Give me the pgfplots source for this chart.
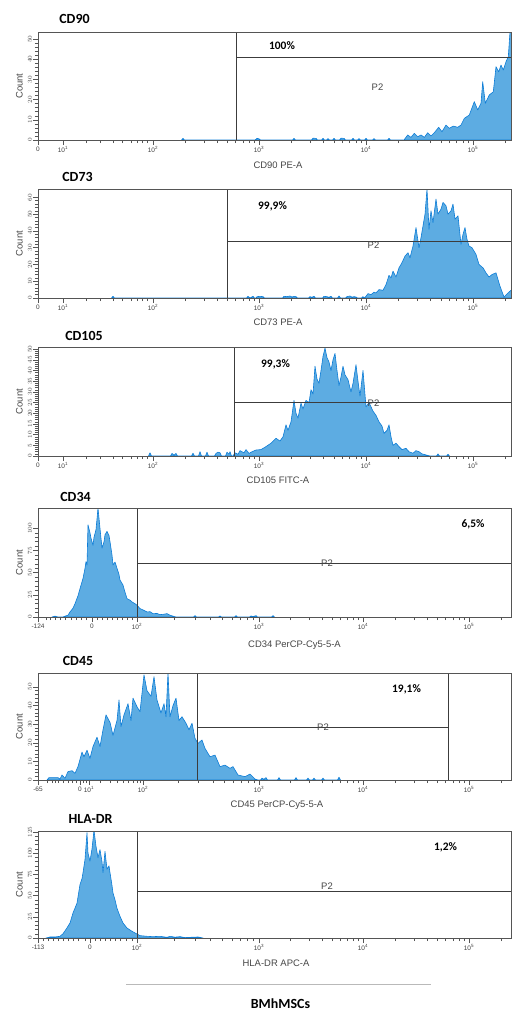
\documentclass[border=0pt]{standalone}
\usepackage{fontspec}
\setmainfont{Liberation Sans}
\newfontfamily\calib{Carlito}
\usepackage{pgfplots}
\pgfplotsset{compat=1.18}
\definecolor{fillblue}{RGB}{93,172,226}
\definecolor{lineblue}{RGB}{12,124,214}
\definecolor{axgray}{RGB}{85,85,85}
\definecolor{gategray}{RGB}{60,60,60}
\definecolor{txtgray}{RGB}{70,70,70}
\newcommand{\dec}[1]{10\textsuperscript{#1}}
\tikzset{gate/.style={draw=gategray, line width=0.8bp}}
\pgfplotsset{
  facs/.style={scale only axis, width=473bp, xmin=38, xmax=511, ymin=0,
    axis on top, axis line style={draw=axgray, line width=0.8bp},
    tick style={draw=axgray, line width=0.5bp},
    tick align=outside, tick pos=left,
    major tick length=5bp, minor tick length=3bp,
    ticklabel style={font=\fontsize{6.5}{7}\selectfont, text=black!75},
    yticklabel style={rotate=90, anchor=south, inner sep=1bp},
    xticklabel style={inner sep=1.5bp},
    ylabel={Count},
    ylabel style={at={(axis description cs:-0.032,0.5)}, anchor=south, inner sep=0pt,
      font=\fontsize{9.5}{11}\selectfont, text=txtgray},
    xlabel style={anchor=center, inner sep=0pt, font=\fontsize{9.5}{11}\selectfont, text=txtgray},
    minor y tick num=4},
  % log display, 0 at left edge
  logx/.style={xtick={38,63,153,259,366,473},
    xticklabels={\raisebox{-4bp}{0},\dec{1},\dec{2},\dec{3},\dec{4},\dec{5}},
    minor xtick={86,100,113,122,131,137,142,147,185,204,217,227,235,243,249,254,
      291,310,323,334,342,349,356,361,398,417,430,441,449,456,463,468,505}},
  hist/.style={draw=lineblue, fill=fillblue, line width=0.6bp, line join=round},
}
\begin{document}
\begin{tikzpicture}
\useasboundingbox (0,0) rectangle (512bp,-1015bp);

% ---------- CD90 ----------
\begin{axis}[facs, logx, height=108bp, ymax=53.5, ytick={0,10,...,50},
  at={(38bp,-140bp)}, anchor=south west,
  xlabel={CD90 PE-A}, xlabel style={at={([xshift=3.5bp,yshift=-25bp]axis description cs:0.5,0)}}]
\addplot[hist] coordinates {
(181.5,0)(183,0.8)(184.5,0) (255,0)(257,0.8)(259,0.6)(260.5,0) (292.5,0)(294,0.8)(295.5,0)
(311.5,0)(313,0.9)(316,0.8)(317.5,0) (321.5,0)(323,0.8)(324.5,0) (326.5,0)(328,0.7)(329.5,0)
(332.5,0)(334,0.8)(335.5,0) (339.5,0)(341,0.9)(344,0.8)(345.5,0) (351.5,0)(353,0.8)(354.5,0)
(357.5,0)(359,0.7)(360.5,0) (364.5,0)(366,0.8)(367.5,0) (372.5,0)(374,0.7)(375.5,0)
(387.5,0)(389,0.8)(390.5,0)
(404,0)(407.7,2.5)(411,1.3)(414.3,3.3)(417.7,1.6)(421,2.5)(424.3,1.3)(427.7,3.6)(431,2)
(434.3,3.6)(438.7,6.3)(442,4.1)(446,7.4)(449.3,5.8)(453.3,6.9)(457.7,6.3)(461,7.4)
(464.3,10.7)(469.3,12.4)(474.3,19)(477.7,14.9)(481,18.2)(482.7,28.9)(485.3,18.2)
(489.3,22.3)(493.3,23.9)(496,36.3)(498.7,33.8)(501,37.1)(503.3,34.7)(506,38.8)
(508.3,41.3)(510,53.6)(511.7,54.5)} \closedcycle;
\draw[gate] (axis cs:236,0) -- (axis cs:236,53.5);
\draw[gate] (axis cs:236,41.1) -- (axis cs:511,41.1);
\end{axis}

% ---------- CD73 ----------
\begin{axis}[facs, logx, height=109bp, ymax=65, ytick={0,10,...,60},
  at={(38bp,-298bp)}, anchor=south west,
  xlabel={CD73 PE-A}, xlabel style={at={([xshift=3.5bp,yshift=-24bp]axis description cs:0.5,0)}}]
\addplot[hist] coordinates {
(111.5,0)(113,1)(114.5,0) (246.5,0)(248,1)(250,0)(253,1)(254.5,0)
(256,0)(257,0.8)(260,1)(263,0.8)(264.5,0)
(282.5,0)(284,1)(287,0.8)(290,1.2)(292,0.6)(294,1)(296,0.8)(297.5,0)
(308.5,0)(310,0.8)(312,0.4)(314,1)(315.5,0)
(322.5,0)(324,1)(327,0.8)(329,0.4)(331,1)(332.5,0) (337.5,0)(339,1.2)(340.5,0)
(345.5,0)(347,0.8)(350,1.2)(352,0.5)(354,0.8)(356,0.6)(357.5,0) (361.5,0)(363,0.8)
(364,0)(366,1)(368,2.6)(371,2)(374,3.5)(376,3)(379,5)(383,4.6)(386,8)(389,13.5)(391,12)
(393,16)(396,12.5)(399,18)(401,20)(403,22.4)(405,25)(408,27)(410,24)(413,31)(416,42)
(419,30)(421,36)(423,43)(425,50)(427,65)(429,41)(431,52)(433,45)(436,59)(438,50)(441,53)
(443,57)(446,55)(448,50)(451,52)(453,56)(455,47)(458,49)(461,32)(463,38)(465,42)(467,35)
(469,31)(472,30)(476,26)(479,20)(483,18)(486,15)(489,12.5)(492,14)(496,15)(500,7)
(504,0.6)(508,3)(511,4.6)(512,4)} \closedcycle;
\draw[gate] (axis cs:227,0) -- (axis cs:227,65);
\draw[gate] (axis cs:227,34) -- (axis cs:511,34);
\end{axis}

% ---------- CD105 ----------
\begin{axis}[facs, logx, height=109bp, ymax=51, ytick={0,5,...,50},
  at={(38bp,-456bp)}, anchor=south west,
  xlabel={CD105 FITC-A}, xlabel style={at={([xshift=3.5bp,yshift=-24bp]axis description cs:0.5,0)}}]
\addplot[hist] coordinates {
(148.5,0)(150,1.5)(151.5,0) (170.5,0)(172,1.2)(174,0.4)(176,1.2)(177.5,0)
(191.5,0)(193,1.3)(194.5,0) (198.5,0)(200,2)(201.5,0) (205.5,0)(207,1.8)(208.5,0)
(214.5,0)(216,1.2)(218,1.8)(220,1.5)(221.5,0) (225.5,0)(227,1.8)(229,0.8)(230,2)(231.5,0)
(233,0)(235,1.5)(238,0.8)(240,2.5)(244,1.5)(246,3)(249,1.2)(252,2)(256,2.8)(261,3)
(266,4.4)(271,6)(276,8.3)(280,7)(283,9)(286,14.6)(288,12)(291,16)(294,26)(296,20)
(298,17.7)(301,24.7)(303,22)(306,26)(309,25)(311,31)(313,29)(315,42)(317,36)(319,34)
(321,40)(323,46.6)(325,50.5)(327,46)(329,44)(331,40)(333,45)(335,48)(337,40)(339,33)
(341,37)(343,42)(345,38)(348,35.7)(351,30)(353,34)(356,42.7)(358,35)(360,28)(363,40)
(366,23)(369,25)(373,21)(376,19)(379,16)(382,14)(384,10.6)(387,12)(389,14.6)(391,9)
(393,5)(396,6)(399,4.4)(402,3)(406,3.6)(409,2)(413,1.3)(416,2.5)(419,2)(422,1)
(426,0.5)(430,0) (436.5,0)(438,1)(439.5,0) (446.5,0)(448,0.8)(449.5,0)} \closedcycle;
\draw[gate] (axis cs:234,0) -- (axis cs:234,51);
\draw[gate] (axis cs:234,25.3) -- (axis cs:511,25.3);
\end{axis}

% ---------- CD34 ----------
\begin{axis}[facs, height=109bp, ymax=123, ytick={0,25,...,100},
  at={(38bp,-617bp)}, anchor=south west,
  xtick={38,92,137,259,363,469},
  xticklabels={\raisebox{-3bp}{-124},0,\dec{2},\dec{3},\dec{4},\dec{5}},
  minor xtick={46,50,55,60,65,71,76,81,86,97,102,107,112,117,122,127,132,
    174,195,210,222,232,240,247,253,290,309,322,332,340,347,353,358,
    395,414,427,437,445,453,459,464,501},
  xlabel={CD34 PerCP-Cy5-5-A}, xlabel style={at={([xshift=20bp,yshift=-28bp]axis description cs:0.5,0)}}]
\addplot[hist] coordinates {
(52,0)(55,1)(58,0)(63,0)(65,1)(68,2)(70,5.7)(73,10)(75,15)(78,24)(80,32)(83,43.6)(85,55)
(86,62.5)(87,58.7)(88,104)(90,95)(91,89)(93,81)(94,90)(96,98.5)(98,123)(100,100)
(102,77.7)(104,85)(105,92.8)(107,96.6)(109,92)(110,85)(112,70)(113,58.7)(115,62)(117,55)
(119,48)(120,41.7)(122,38)(123,36)(125,28)(127,20.8)(130,19)(132,17)(135,15)(137,13.3)
(140,9.5)(143,8)(147,5.7)(150,6)(153,3.8)(157,4)(160,2.7)(163,3)(167,3.8)(170,2)(173,1)
(176,0) (193.5,0)(195,1.5)(196.5,0) (218.5,0)(220,1.2)(221.5,0) (234.5,0)(236,1.5)(237.5,0)
(249.5,0)(251,1.2)(253,0.5)(256,1.5)(257.5,0) (271.5,0)(273,1.5)(274.5,0)} \closedcycle;
\draw[gate] (axis cs:137,0) -- (axis cs:137,123);
\draw[gate] (axis cs:137,60.9) -- (axis cs:511,60.9);
\end{axis}

% ---------- CD45 ----------
\begin{axis}[facs, height=107bp, ymax=57.5, ytick={0,10,...,50},
  at={(38bp,-780bp)}, anchor=south west,
  xtick={38,80,89,143,259,363,469},
  xticklabels={\raisebox{-3bp}{-65},0,\dec{1},\dec{2},\dec{3},\dec{4},\dec{5}},
  minor xtick={47,52,55,58,63,68,72,76,83,86,100,110,117,123,128,133,137,140,
    178,198,213,224,233,241,248,254,290,309,322,332,340,347,353,358,
    395,414,427,437,445,453,459,464,501},
  xlabel={CD45 PerCP-Cy5-5-A}, xlabel style={at={([xshift=2.5bp,yshift=-25bp]axis description cs:0.5,0)}}]
\addplot[hist] coordinates {
(47,0)(49,1.3)(58,1.3)(60,0.5)(62,2.7)(65,0.9)(68,4.5)(72,5)(75,3.6)(78,7.2)(82,15)
(84,12.5)(87,16)(90,11.6)(93,18)(97,23)(100,18)(103,27)(106,35)(110,31)(113,24)(117,32)
(119,43)(121,28.7)(124,35)(128,41)(131,32)(133,44)(137,39.4)(140,36.7)(144,56.5)(147,48)
(151,45)(154,55.5)(157,43)(161,36)(164,41)(166,34)(168,57.7)(170,34)(173,40)(176,44)
(179,32)(182,34)(186,30.5)(189,27)(192,30.5)(195,22.4)(198,19.7)(202,21.5)(205,17)
(210,12.5)(215,13.4)(220,7.2)(225,8)(230,6.3)(233,7.2)(238,2.7)(245,1.8)(250,3.2)
(255,0.5)(258,0) (260.5,0)(262,1)(264,0.4)(266,1.3)(267.5,0) (277.5,0)(279,1.3)(280.5,0)
(294.5,0)(296,1.3)(297.5,0) (306.5,0)(308,1)(309.5,0) (312.5,0)(314,1)(315.5,0)
(321.5,0)(323,1)(324.5,0) (337.5,0)(339,1.5)(340.5,0)} \closedcycle;
\draw[gate] (axis cs:197,0) -- (axis cs:197,57.5);
\draw[gate] (axis cs:448,0) -- (axis cs:448,57.5);
\draw[gate] (axis cs:197,28.5) -- (axis cs:448,28.5);
\end{axis}

% ---------- HLA-DR ----------
\begin{axis}[facs, height=107bp, ymax=126, ytick={0,25,...,125},
  at={(38bp,-938bp)}, anchor=south west,
  xtick={38,90,137,259,363,469},
  xticklabels={\raisebox{-3bp}{-113},0,\dec{2},\dec{3},\dec{4},\dec{5}},
  minor xtick={43,48,53,58,63,68,73,78,85,95,100,105,110,115,120,126,132,
    174,195,210,222,232,240,247,253,290,309,322,332,340,347,353,358,
    395,414,427,437,445,453,459,464,501},
  xlabel={HLA-DR APC-A}, xlabel style={at={([xshift=1.5bp,yshift=-25bp]axis description cs:0.5,0)}}]
\addplot[hist] coordinates {
(46,0)(50,1.2)(55,1.2)(60,2)(63,5)(67,12)(70,17.7)(73,29.5)(77,41)(80,63)(82,70)(83,77)
(85,92.5)(87,124)(88,100)(90,90.5)(92,105)(93,116)(94,127)(96,108)(98,94.5)(100,104)
(102,90)(103,77)(105,102)(107,81)(109,85)(110,77)(112,62)(113,53)(115,45)(117,35)
(120,25.6)(123,17.7)(127,11.8)(132,7.9)(137,4.7)(140,2.8)(147,2)(153,1.6)(160,2)
(167,0.8)(170,2)(175,1)(180,1.6)(185,0.5)(190,0.8)(198,1.2)(203,0)} \closedcycle;
\draw[gate] (axis cs:137,0) -- (axis cs:137,126);
\draw[gate] (axis cs:137,55.4) -- (axis cs:511,55.4);
\end{axis}

% ---------- titles and gate labels ----------
\begin{scope}[every node/.style={font=\calib\bfseries\fontsize{14}{16}\selectfont, inner sep=0pt}]
\node at (74.5bp,-18.5bp) {CD90};
\node at (77.5bp,-177bp) {CD73};
\node at (84bp,-336bp) {CD105};
\node at (75.5bp,-497bp) {CD34};
\node at (78bp,-660.5bp) {CD45};
\node at (90.5bp,-818.5bp) {HLA-DR};
\node at (280.5bp,-1004bp) {BMhMSCs};
\end{scope}
\begin{scope}[every node/.style={font=\calib\bfseries\fontsize{11.5}{13}\selectfont, inner sep=0pt}]
\node at (282bp,-45.5bp) {100\%};
\node at (272.5bp,-206bp) {99,9\%};
\node at (275.5bp,-364.5bp) {99,3\%};
\node at (473bp,-524.5bp) {6,5\%};
\node at (406.5bp,-689.5bp) {19,1\%};
\node at (445.5bp,-847.5bp) {1,2\%};
\end{scope}
\begin{scope}[every node/.style={font=\fontsize{9.5}{11}\selectfont, text=txtgray, inner sep=0pt}]
\node at (377.5bp,-87bp) {P2};
\node at (373.5bp,-245bp) {P2};
\node at (373.5bp,-403bp) {P2};
\node at (327bp,-563.5bp) {P2};
\node at (323bp,-727.5bp) {P2};
\node at (327bp,-886bp) {P2};
\end{scope}
\draw[gray!55, line width=0.8bp] (126bp,-984bp) -- (431bp,-984bp);
\end{tikzpicture}
\end{document}
